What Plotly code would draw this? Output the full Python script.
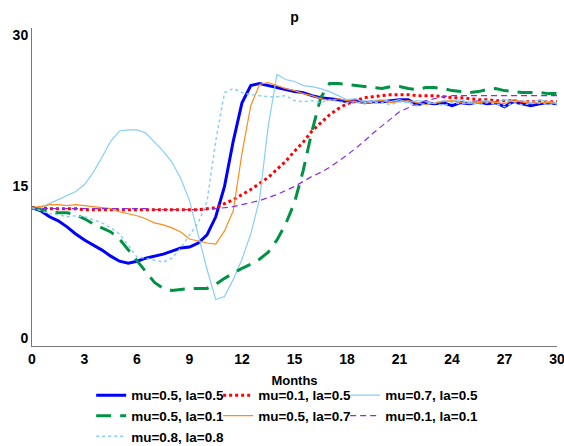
import plotly.graph_objects as go

months = [i * 0.5 for i in range(61)]

s_mu05_la05 = [12.9, 12.6, 12.0, 11.6, 11.0, 10.3, 9.7, 9.2, 8.7, 8.1, 7.6, 7.4, 7.6, 7.9, 8.1, 8.3,
               8.6, 8.9, 9.0, 9.4, 10.2, 12.0, 15.0, 19.5, 23.3, 25.0, 25.2, 25.0, 24.8, 24.6, 24.4,
               24.3, 24.0, 23.8, 23.7, 23.6, 23.4, 23.5, 23.3, 23.4, 23.4, 23.5, 23.6, 23.6, 23.1,
               23.3, 23.2, 23.3, 23.0, 23.3, 23.2, 23.4, 23.2, 23.3, 22.9, 23.4, 23.2, 23.0, 23.2,
               23.3, 23.2]
s_mu01_la05 = [12.9, 12.9, 12.8, 12.8, 12.8, 12.8, 12.7, 12.7, 12.7, 12.7, 12.7, 12.7, 12.7, 12.7,
               12.7, 12.7, 12.7, 12.7, 12.7, 12.7, 12.8, 12.9, 13.3, 13.7, 14.2, 14.7, 15.3, 15.9,
               16.7, 17.5, 18.5, 19.4, 20.5, 21.3, 22.1, 22.7, 23.2, 23.5, 23.8, 23.9, 24.0, 24.1,
               24.1, 24.1, 24.0, 24.0, 24.0, 23.9, 23.8, 23.8, 23.7, 23.6, 23.6, 23.5, 23.5, 23.5,
               23.4, 23.4, 23.4, 23.4, 23.4]
s_mu07_la05 = [12.9, 12.9, 13.3, 13.7, 14.1, 14.5, 15.2, 16.4, 17.9, 19.5, 20.5, 20.6, 20.6, 20.3,
               19.4, 18.5, 17.4, 15.8, 13.6, 10.2, 6.8, 3.8, 4.1, 5.8, 7.8, 10.3, 13.7, 21.0, 26.1,
               25.6, 25.4, 25.0, 24.9, 24.7, 24.4, 24.0, 23.6, 23.7, 23.3, 23.5, 23.6, 23.4, 23.6,
               23.3, 23.5, 23.4, 23.2, 23.5, 23.4, 23.6, 23.3, 23.4, 23.5, 23.3, 23.6, 23.4, 23.5,
               23.3, 23.6, 23.4, 23.3]
s_mu05_la01 = [12.9, 12.7, 12.5, 12.4, 12.4, 12.2, 11.8, 11.3, 10.9, 10.5, 9.8, 8.7, 7.7, 6.5, 5.5,
               4.9, 4.7, 4.8, 4.9, 4.9, 4.9, 5.3, 5.9, 6.4, 6.9, 7.3, 7.8, 8.5, 9.7, 11.3, 13.4, 16.6,
               20.5, 23.8, 25.2, 25.2, 25.1, 25.0, 24.9, 24.8, 24.7, 24.9, 24.9, 24.7, 24.6, 24.8,
               24.8, 24.7, 24.5, 24.4, 24.3, 24.4, 24.6, 24.7, 24.5, 24.4, 24.3, 24.3, 24.3, 24.2,
               24.2]
s_mu05_la07 = [12.9, 13.0, 13.2, 13.2, 13.1, 13.2, 13.1, 13.0, 12.9, 12.8, 12.5, 12.3, 12.1, 11.8,
               11.4, 11.2, 10.9, 10.5, 9.8, 9.6, 9.4, 9.3, 10.6, 12.6, 18.3, 23.0, 25.1, 25.3, 25.0,
               24.7, 24.5, 24.2, 24.0, 23.7, 23.5, 23.7, 23.5, 23.4, 23.2, 23.4, 23.5, 23.3, 23.4,
               23.5, 23.3, 23.1, 23.3, 23.4, 23.5, 23.3, 23.2, 23.3, 23.4, 23.3, 23.2, 23.6, 23.4,
               23.2, 23.3, 23.3, 23.2]
s_mu01_la01 = [12.9, 12.8, 12.8, 12.8, 12.8, 12.8, 12.8, 12.8, 12.8, 12.8, 12.8, 12.8, 12.8, 12.8,
               12.7, 12.7, 12.7, 12.7, 12.7, 12.7, 12.7, 12.8, 12.9, 13.0, 13.2, 13.4, 13.6, 13.9,
               14.2, 14.6, 15.0, 15.5, 16.0, 16.4, 16.9, 17.5, 18.1, 18.8, 19.5, 20.3, 21.0, 21.7,
               22.4, 22.8, 23.2, 23.5, 23.7, 23.9, 24.0, 24.0, 24.0, 24.0, 24.0, 24.0, 24.0, 24.0,
               24.0, 24.0, 24.0, 24.0, 24.0]
s_mu08_la08 = [12.9, 12.6, 12.3, 12.2, 12.0, 12.1, 12.0, 11.7, 11.4, 10.9, 10.3, 9.2, 8.0, 7.9, 7.7,
               7.5, 7.9, 8.9, 10.2, 11.4, 13.5, 19.5, 24.3, 24.7, 24.3, 24.1, 24.0, 23.9, 23.9, 24.0,
               23.5, 23.4, 23.5, 23.3, 23.6, 23.4, 23.3, 23.2, 23.5, 23.3, 23.3, 23.1, 23.4, 23.3,
               23.0, 23.2, 23.3, 23.0, 23.3, 23.2, 23.4, 23.1, 23.3, 23.2, 22.9, 23.3, 23.1, 23.2,
               23.3, 23.1, 23.2]

names = ["mu=0.5, la=0.5", "mu=0.1, la=0.5", "mu=0.7, la=0.5", "mu=0.5, la=0.1",
         "mu=0.5, la=0.7", "mu=0.1, la=0.1", "mu=0.8, la=0.8"]
series = [s_mu05_la05, s_mu01_la05, s_mu07_la05, s_mu05_la01, s_mu05_la07, s_mu01_la01, s_mu08_la08]
legend_cols = ["c1", "c2", "c3", "c1", "c2", "c3", "c1"]
styles = [
    dict(color="#0000ff", width=3, dash="solid"),
    dict(color="#ff0000", width=3, dash="dot"),
    dict(color="#87cefa", width=1.2, dash="solid"),
    dict(color="#009245", width=3, dash="15px,9px"),
    dict(color="#ff8c1a", width=1.2, dash="solid"),
    dict(color="#8a2be2", width=1.2, dash="6px,4px"),
    dict(color="#87cefa", width=1.5, dash="dot"),
]

fig = go.Figure()
for n, s, st, g in zip(names, series, styles, legend_cols):
    fig.add_trace(go.Scatter(x=months, y=s, mode="lines", name=n, line=st, legendgroup=g,
                             legendwidth=110 if g == "c3" else 82))

fig.update_layout(
    width=564, height=446,
    margin=dict(l=32, r=7, t=28, b=100, autoexpand=False),
    paper_bgcolor="white", plot_bgcolor="white",
    font=dict(family="Liberation Sans, Arial, sans-serif", size=13, color="#000", weight="bold"),
    title=dict(text="p", x=0.5, xref="paper", y=1 - 17 / 446, yref="container", yanchor="middle",
               font=dict(size=14, weight="bold")),
    xaxis=dict(range=[0, 30], tickvals=[0, 3, 6, 9, 12, 15, 18, 21, 24, 27, 30],
               showgrid=False, zeroline=False, showline=True, linecolor="#777", linewidth=1,
               ticks="", ticklabeloverflow="allow", automargin=False,
               tickfont=dict(size=14, weight="bold"),
               title=dict(text="Months", standoff=10, font=dict(size=13, weight="bold"))),
    yaxis=dict(range=[-0.8, 30.7], tickvals=[0, 15, 30], showgrid=False, zeroline=False,
               showline=True, linecolor="#777", linewidth=1, ticks="", automargin=False,
               tickfont=dict(size=14, weight="bold")),
    legend=dict(orientation="h", x=0.1127, xanchor="left", y=-0.1066, yanchor="top",
                traceorder="grouped", entrywidth=82, tracegroupgap=0,
                font=dict(size=13.5, weight="bold")),
    showlegend=True,
)

fig.write_html("out.html")
